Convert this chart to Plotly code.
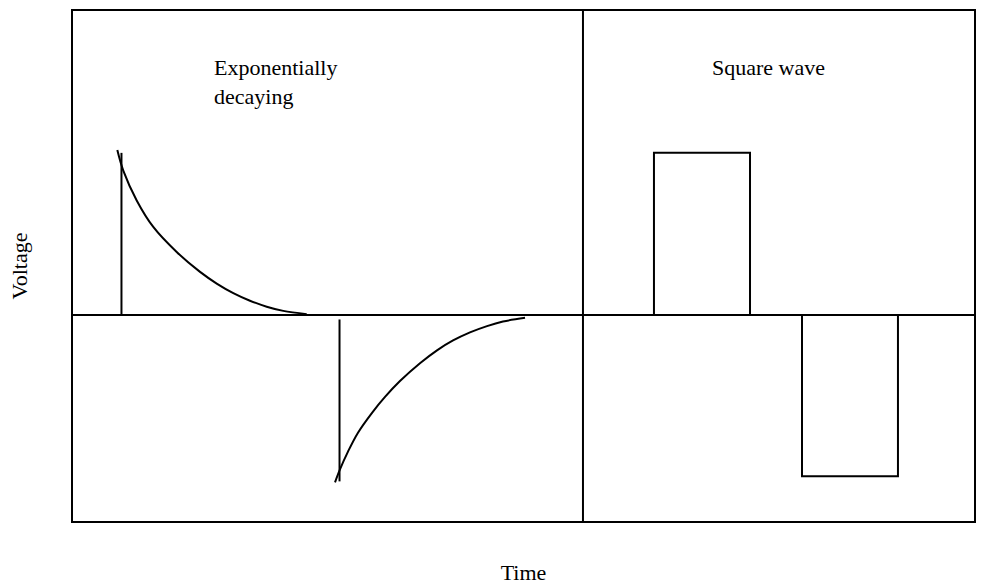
import plotly.graph_objects as go

# ---- data (time in arbitrary units, voltage normalised to pulse amplitude) ----
exp_pos_t = [0.492, 0.558, 0.707, 0.891, 1.151, 1.410, 1.595, 1.779, 1.964, 2.150, 2.334, 2.594]
exp_pos_v = [1.017, 0.890, 0.706, 0.542, 0.387, 0.264, 0.192, 0.133, 0.086, 0.049, 0.023, 0.003]
exp_pos_edge_t = [0.538, 0.538]
exp_pos_edge_v = [0.0, 1.0]

exp_neg_t = [2.908, 2.963, 3.052, 3.163, 3.319, 3.463, 3.629, 3.851, 4.040, 4.218, 4.406, 4.595, 4.772, 5.017]
exp_neg_v = [-1.037, -0.957, -0.847, -0.730, -0.607, -0.509, -0.411, -0.301, -0.221, -0.160, -0.110, -0.071, -0.043, -0.020]
exp_neg_edge_t = [2.958, 2.958]
exp_neg_edge_v = [-0.03, -1.031]

sq_pos_t = [6.448, 6.448, 7.514, 7.514]
sq_pos_v = [0.0, 1.0, 1.0, 0.0]
sq_neg_t = [8.091, 8.091, 9.156, 9.156]
sq_neg_v = [0.0, -1.0, -1.0, 0.0]

divider_t = [5.660, 5.660]
x_range = [0.0, 10.0]
y_range = [-1.276, 1.877]

labels = ["Exponentially<br>decaying", "Square wave"]
label_t = [1.543, 7.070]

FONT = "Liberation Serif, Times New Roman, serif"
line = dict(color="black", width=2)

fig = go.Figure()
for xs, ys in [(exp_pos_t, exp_pos_v), (exp_pos_edge_t, exp_pos_edge_v),
               (exp_neg_t, exp_neg_v), (exp_neg_edge_t, exp_neg_edge_v),
               (sq_pos_t, sq_pos_v), (sq_neg_t, sq_neg_v),
               (divider_t, y_range)]:
    fig.add_trace(go.Scatter(x=xs, y=ys, mode="lines", line=line,
                             line_shape="spline" if len(xs) > 4 else "linear",
                             hoverinfo="skip", showlegend=False))

for txt, tx in zip(labels, label_t):
    fig.add_annotation(x=tx, y=y_range[1] - 0.26, xref="x", yref="y", text=txt,
                       showarrow=False, xanchor="left", yanchor="top", align="left",
                       font=dict(family=FONT, size=22, color="black"))

fig.update_layout(
    width=987, height=588,
    margin=dict(l=73, r=13, t=9, b=65),
    paper_bgcolor="white", plot_bgcolor="white",
    showlegend=False,
    xaxis=dict(range=x_range, showgrid=False, zeroline=False, showticklabels=False,
               ticks="", showline=True, mirror=True, linecolor="black", linewidth=2,
               title=dict(text="Time", font=dict(family=FONT, size=22, color="black"), standoff=43)),
    yaxis=dict(range=y_range, showgrid=False, zeroline=True, zerolinecolor="black",
               zerolinewidth=2, showticklabels=False, ticks="",
               showline=True, mirror=True, linecolor="black", linewidth=2,
               title=dict(text="Voltage", font=dict(family=FONT, size=22, color="black"), standoff=37)),
)

fig.write_html("out.html", config={"displayModeBar": False},
               post_script="document.body.style.margin='0';document.body.style.overflow='hidden';")
